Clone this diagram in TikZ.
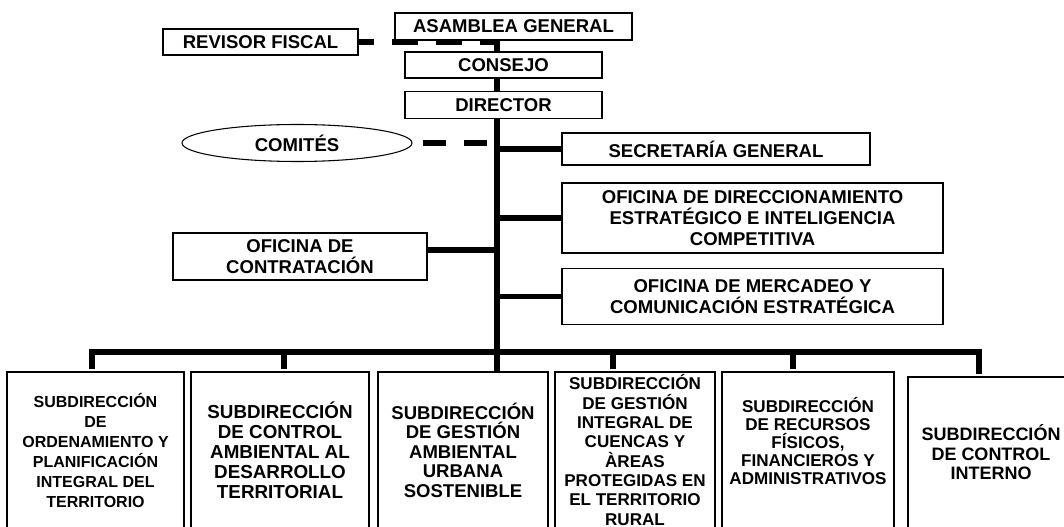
\documentclass[tikz,border=0pt]{standalone}
\usepackage{fontspec}
\setmainfont{Liberation Sans}
\usetikzlibrary{positioning,shapes.geometric,backgrounds}
\newlength{\pxu}
\setlength{\pxu}{0.75pt}

\begin{document}
\begin{tikzpicture}[
    x=0.75pt, y=-0.75pt,
    box/.style={rectangle, draw, fill=white, line width=1.1pt, align=center,
                inner sep=0pt, font=\fontsize{13.9}{15.75}\selectfont\bfseries},
    subbox/.style={box, minimum height=156\pxu},
    trunk/.style={line width=4.2pt},
    dashlink/.style={line width=4.2pt, dash pattern=on 19.5pt off 13.5pt},
]
\useasboundingbox (0,0) rectangle (1064,527);

% Asamblea, consejo, director
\node[box, minimum width=237\pxu, minimum height=27\pxu] (asamblea) at (513.5,26.5) {ASAMBLEA GENERAL};
\node[box, minimum width=197\pxu, minimum height=26\pxu] (consejo) at (503.5,65) {CONSEJO};
\node[box, minimum width=197\pxu, minimum height=27\pxu, below=12\pxu of consejo] (director) {DIRECTOR};
\node[box, minimum width=195\pxu, minimum height=26\pxu] (revisor) at (260.5,42) {REVISOR FISCAL};
\node[ellipse, draw, fill=white, line width=0.8pt, inner sep=0pt, minimum width=230\pxu, minimum height=37\pxu,
      font=\fontsize{13.9}{15.75}\selectfont\bfseries] (comites) at (297,143) {COMITÉS};

% Oficinas
\node[box, minimum width=308\pxu, minimum height=32\pxu] (secretaria) at (716,149) {SECRETARÍA GENERAL};
\node[box, minimum width=381\pxu, minimum height=70\pxu] (direccionamiento) at (752.5,218)
    {OFICINA DE DIRECCIONAMIENTO\\ESTRATÉGICO E INTELIGENCIA\\COMPETITIVA};
\node[box, minimum width=381\pxu, minimum height=56\pxu, below=14\pxu of direccionamiento] (mercadeo)
    {OFICINA DE MERCADEO Y\\COMUNICACIÓN ESTRATÉGICA};
\node[box, minimum width=254\pxu, minimum height=47\pxu] (contratacion) at (300,256.5) {OFICINA DE\\CONTRATACIÓN};

% Subdirecciones
\node[subbox, minimum width=177\pxu, font=\fontsize{12}{15}\selectfont\bfseries] (sub1) at (95.5,450)
    {SUBDIRECCIÓN\\DE\\ORDENAMIENTO Y\\PLANIFICACIÓN\\INTEGRAL DEL\\TERRITORIO};
\node[subbox, minimum width=178\pxu, font=\fontsize{14.1}{15}\selectfont\bfseries] (sub2) at (280,450)
    {SUBDIRECCIÓN\\DE CONTROL\\AMBIENTAL AL\\DESARROLLO\\TERRITORIAL};
\node[subbox, minimum width=170\pxu, font=\fontsize{13.9}{14.6}\selectfont\bfseries] (sub3) at (463,450)
    {SUBDIRECCIÓN\\DE GESTIÓN\\AMBIENTAL\\URBANA\\SOSTENIBLE};
\node[subbox, minimum width=160\pxu, font=\fontsize{12.8}{14.5}\selectfont\bfseries] (sub4) at (635,450)
    {SUBDIRECCIÓN\\DE GESTIÓN\\INTEGRAL DE\\CUENCAS Y\\ÀREAS\\PROTEGIDAS EN\\EL TERRITORIO\\RURAL};
\node[subbox, minimum width=172\pxu, font=\fontsize{12.8}{13.5}\selectfont\bfseries] (sub5) at (808,450)
    {SUBDIRECCIÓN\\DE RECURSOS\\FÍSICOS,\\FINANCIEROS Y\\ADMINISTRATIVOS\\\mbox{}};
\node[subbox, minimum width=166\pxu, minimum height=151\pxu, font=\fontsize{13.5}{14.6}\selectfont\bfseries] (sub6) at (991,452.5)
    {SUBDIRECCIÓN\\DE CONTROL\\INTERNO};

% Lineas
\coordinate (bus) at (497,352);
\foreach \n/\x in {1/92, 2/284, 4/613, 5/793, 6/979}
    \coordinate (drop\n) at (\x,352);

\begin{scope}[on background layer]
  \draw[trunk] (asamblea.south -| bus) -- (bus |- sub3.north);
\end{scope}
\draw[trunk] (secretaria.west) -- (secretaria.west -| bus);
\draw[trunk] (direccionamiento.west) -- (direccionamiento.west -| bus);
\draw[trunk] (mercadeo.west) -- (mercadeo.west -| bus);
\draw[trunk] ([yshift=4.9pt]contratacion.east) -- ([yshift=4.9pt]contratacion.east -| bus);
\draw[trunk, shorten <=1.5pt, shorten >=1.5pt] (drop1 |- sub1.north) -- (drop1) -- (drop6) -- (drop6 |- sub6.north);
\foreach \n in {2,4,5}
    \draw[trunk, shorten >=1.5pt] (drop\n) -- (drop\n |- sub\n.north);
\draw[dashlink, dash phase=8.25pt] (revisor.east) -- (revisor.east -| bus);
\draw[dashlink, dash pattern=on 17.25pt off 13.5pt, dash phase=23.25pt] (comites.east) -- (comites.east -| bus);
\end{tikzpicture}
\end{document}
